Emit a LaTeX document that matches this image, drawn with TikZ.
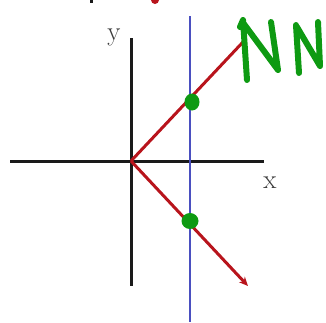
\documentclass[tikz,border=0pt]{standalone}
\usepackage{tikz}
\usetikzlibrary{arrows.meta}
\definecolor{ink}{HTML}{1A1A1A}
\definecolor{ray}{HTML}{B8141C}
\definecolor{vline}{HTML}{4A4FC0}
\definecolor{pen}{HTML}{0E9A12}
\tikzset{
  axis/.style={draw=ink,line width=3pt},
  rayl/.style={draw=ray,line width=3pt},
  rayar/.style={rayl,-{Stealth[length=9pt,width=8pt]}},
  vert/.style={draw=vline,line width=2.2pt},
  hit/.style={fill=pen},
  hand/.style={draw=pen,line width=6pt,line cap=round,line join=round},
  lbl/.style={text=ink!85,font=\fontsize{27}{27}\selectfont,inner sep=0pt},
}
\begin{document}
\begin{tikzpicture}[x=1pt,y=-1pt]
\useasboundingbox (0,0) rectangle (326,322);
\clip (0,0) rectangle (326,322);
% axes
\coordinate (o) at (131,161);
\coordinate (xl) at (10,161);
\coordinate (xr) at (264,161);
\coordinate (yt) at (131,38);
\coordinate (yb) at (131,286);
\draw[axis] (xl) -- (xr);
\draw[axis] (yt) -- (yb);
\node[lbl] (ylab) at (114,37) {y};
\node[lbl] (xlab) at (270,183) {x};
% vertical line
\coordinate (vt) at (190,16);
\coordinate (vb) at (190,322);
\draw[vert] (vt) -- (vb);
% rays
\coordinate (up) at (243,42);
\coordinate (dn) at (248,286);
\draw[rayl] (o) -- (up);
\draw[rayar] (o) -- (dn);
% intersections
\fill[hit] (192,102) ellipse (7.5 and 8.5);
\fill[hit] (190,221) ellipse (8.5 and 8);
% handwriting
\draw[hand] (240,27) -- (243,20) -- (247,80);
\draw[hand] (244,24) -- (278,70) -- (271,22);
\draw[hand] (296,25) -- (299,73);
\draw[hand] (297,27) -- (320,66) -- (318,22);
% fragments at the top edge
\fill[ink] (90,-2) rectangle (93,3);
\fill[ray] (155,0) circle (4);
\end{tikzpicture}
\end{document}
